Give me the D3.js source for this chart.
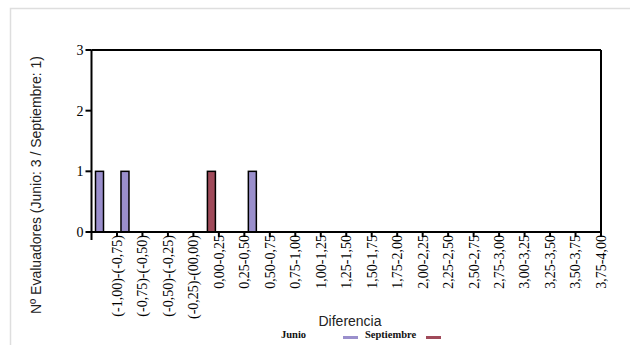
<!DOCTYPE html>
<html>
<head>
<meta charset="utf-8">
<script src="https://cdn.jsdelivr.net/npm/d3@7"></script>
<style>
  html, body { margin: 0; padding: 0; background: #fff; }
  svg { display: block; }
</style>
</head>
<body>
<svg id="chart" width="630" height="345"></svg>
<script>
const categories = [
  "(-1,00)-(-0,75)", "(-0,75)-(-0,50)", "(-0,50)-(-0,25)", "(-0,25)-(00,00)",
  "0,00-0,25", "0,25-0,50", "0,50-0,75", "0,75-1,00", "1,00-1,25", "1,25-1,50",
  "1,50-1,75", "1,75-2,00", "2,00-2,25", "2,25-2,50", "2,50-2,75", "2,75-3,00",
  "3,00-3,25", "3,25-3,50", "3,50-3,75", "3,75-4,00"
];
const seriesNames = ["Junio", "Septiembre"];
const junio      = [1,1,0,0,0,0,1,0,0,0,0,0,0,0,0,0,0,0,0,0];
const septiembre = [0,0,0,0,1,0,0,0,0,0,0,0,0,0,0,0,0,0,0,0];
const yTicks = [0, 1, 2, 3];
const colors = ["#9a8fcc", "#a04a5a"];

const svg = d3.select("#chart");

// light outer frame
svg.append("rect")
  .attr("x", 10.5).attr("y", 8.5)
  .attr("width", 640).attr("height", 360)
  .attr("fill", "none").attr("stroke", "#dedede").attr("stroke-width", 1.5);

const pL = 91.5, pR = 601, pT = 50, pB = 232;

const x = d3.scaleBand().domain(categories).range([pL, pR]).padding(0);
const xSub = d3.scaleBand().domain(seriesNames).range([4, 22]).paddingInner(0.2);
const y = d3.scaleLinear().domain([0, 3]).range([pB, pT]);

const data = categories.map((c, i) => ({ cat: c, vals: [junio[i], septiembre[i]] }));

// bars
const g = svg.append("g");
data.forEach(d => {
  d.vals.forEach((v, si) => {
    if (v > 0) {
      g.append("rect")
        .attr("x", x(d.cat) + xSub(seriesNames[si]))
        .attr("y", y(v))
        .attr("width", xSub.bandwidth())
        .attr("height", y(0) - y(v))
        .attr("fill", colors[si])
        .attr("stroke", "#000")
        .attr("stroke-width", 1.5);
    }
  });
});

// frame top and right
svg.append("line").attr("x1", pL).attr("x2", pR).attr("y1", pT).attr("y2", pT)
  .attr("stroke", "#000").attr("stroke-width", 2);
svg.append("line").attr("x1", pR).attr("x2", pR).attr("y1", pT).attr("y2", pB)
  .attr("stroke", "#000").attr("stroke-width", 2);

// y axis
const yAxis = svg.append("g");
yAxis.append("line").attr("x1", pL).attr("x2", pL).attr("y1", pT).attr("y2", 240)
  .attr("stroke", "#000").attr("stroke-width", 2);
yTicks.forEach(t => {
  yAxis.append("line").attr("x1", pL - 6).attr("x2", pL).attr("y1", y(t)).attr("y2", y(t))
    .attr("stroke", "#000").attr("stroke-width", 2);
  yAxis.append("text").attr("x", pL - 8).attr("y", y(t)).attr("dy", "0.35em")
    .attr("text-anchor", "end")
    .attr("font-family", "Liberation Serif, Times New Roman, serif")
    .attr("font-size", 14).attr("fill", "#000").text(t);
});

// x axis
const xAxis = svg.append("g");
xAxis.append("line").attr("x1", pL).attr("x2", pR).attr("y1", pB).attr("y2", pB)
  .attr("stroke", "#000").attr("stroke-width", 2);
categories.forEach(c => {
  const tx = x(c) + x.bandwidth();
  xAxis.append("line").attr("x1", tx).attr("x2", tx).attr("y1", pB).attr("y2", pB + 5)
    .attr("stroke", "#000").attr("stroke-width", 2);
  xAxis.append("text")
    .attr("transform", `translate(${tx},${pB + 3}) rotate(-90)`)
    .attr("dy", "0.35em")
    .attr("text-anchor", "end")
    .attr("font-family", "Liberation Serif, Times New Roman, serif")
    .attr("font-size", 14).attr("fill", "#000").text(c);
});

// axis titles
svg.append("text")
  .attr("transform", "translate(41,185) rotate(-90)")
  .attr("text-anchor", "middle")
  .attr("font-family", "Liberation Sans, Arial, sans-serif")
  .attr("font-size", 14).attr("fill", "#222")
  .text("Nº Evaluadores (Junio: 3 / Septiembre: 1)");

svg.append("text")
  .attr("x", 350).attr("y", 326)
  .attr("text-anchor", "middle")
  .attr("font-family", "Liberation Sans, Arial, sans-serif")
  .attr("font-size", 14).attr("fill", "#222")
  .text("Diferencia");

// legend
const legendItems = [
  { name: seriesNames[0], tx: 281, sx: 343, color: colors[0] },
  { name: seriesNames[1], tx: 365, sx: 426, color: colors[1] }
];
legendItems.forEach(it => {
  svg.append("text").attr("x", it.tx).attr("y", 338)
    .attr("font-family", "Liberation Serif, Times New Roman, serif")
    .attr("font-size", 10.5).attr("font-weight", "bold").attr("fill", "#111")
    .text(it.name);
  svg.append("rect").attr("x", it.sx).attr("y", 336).attr("width", 15).attr("height", 3)
    .attr("fill", it.color);
});
</script>
</body>
</html>
